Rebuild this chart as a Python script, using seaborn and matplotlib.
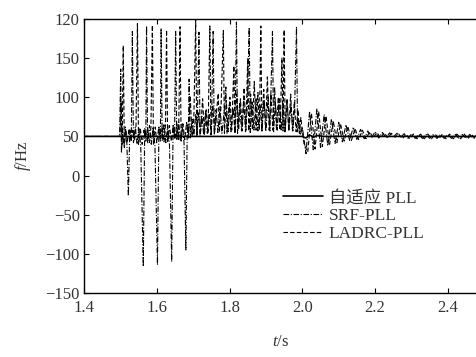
import matplotlib
matplotlib.use("Agg")
import matplotlib.pyplot as plt
import seaborn as sns
import pandas as pd

# ---------------- data ----------------
series_names = ["自适应 PLL", "SRF-PLL", "LADRC-PLL"]

adaptive_t = [1.40, 2.000, 2.010, 2.020, 2.030, 2.040, 2.060, 2.48]
adaptive_f = [50, 50, 48, 52, 49, 51, 50, 50]

srf_t = [1.400, 1.498, 1.501, 1.503, 1.506, 1.510, 1.514, 1.518, 1.522, 1.526,
         1.530, 1.533, 1.536, 1.541, 1.546, 1.551, 1.556, 1.563, 1.567, 1.570,
         1.572, 1.575, 1.580, 1.585, 1.590, 1.595, 1.602, 1.606, 1.610, 1.612,
         1.615, 1.620, 1.625, 1.630, 1.635, 1.641, 1.645, 1.649, 1.652, 1.655,
         1.660, 1.665, 1.670, 1.675, 1.680, 1.684, 1.687, 1.689, 1.692, 1.697,
         1.702, 1.707, 1.711, 1.716, 1.719, 1.724, 1.729, 1.734, 1.739, 1.744,
         1.750, 1.755, 1.758, 1.763, 1.768, 1.774, 1.779, 1.785, 1.790, 1.793,
         1.799, 1.804, 1.810, 1.815, 1.819, 1.822, 1.828, 1.833, 1.839, 1.844,
         1.849, 1.854, 1.857, 1.862, 1.867, 1.873, 1.878, 1.884, 1.889, 1.895,
         1.900, 1.906, 1.911, 1.918, 1.921, 1.926, 1.931, 1.937, 1.942, 1.947,
         1.952, 1.958, 1.963, 1.969, 1.974, 1.979, 1.984, 1.987, 1.991, 1.995,
         2.000, 2.010, 2.020, 2.030, 2.040, 2.050, 2.060, 2.070, 2.080, 2.090,
         2.100, 2.110, 2.120, 2.130, 2.140, 2.150, 2.160, 2.170, 2.180, 2.190,
         2.200, 2.210, 2.220, 2.230, 2.240, 2.250, 2.260, 2.270, 2.280, 2.290,
         2.300, 2.310, 2.320, 2.330, 2.340, 2.350, 2.360, 2.370, 2.380, 2.390,
         2.400, 2.410, 2.420, 2.430, 2.440, 2.450, 2.460, 2.470, 2.480]
srf_f = [50, 50, 136, 29, 60, 38, 62, 40, -26, 58,
         45, 184, 42, 62, 40, 60, 38, -116, 60, 48,
         191, 42, 64, 40, 62, 38, -114, 62, 48, 188,
         44, 66, 42, 64, 40, -110, 64, 50, 184, 45,
         68, 44, 66, 42, -95, 66, 52, 123, 48, 72,
         50, 78, 52, 183, 50, 76, 52, 82, 54, 78,
         53, 184, 52, 84, 55, 88, 54, 80, 113, 54,
         90, 56, 86, 55, 196, 54, 92, 57, 95, 56,
         88, 189, 55, 94, 58, 98, 57, 90, 56, 96,
         58, 100, 57, 184, 56, 94, 58, 98, 57, 92,
         56, 96, 58, 90, 57, 88, 190, 56, 70, 52,
         62, 28, 82, 33, 85, 36, 78, 38, 72, 41,
         68, 43, 65, 45, 62, 46, 59, 47, 57, 48,
         56, 48, 55, 48.5, 54.5, 49, 54, 49, 53.5, 47.5,
         53, 47.5, 52.5, 47.5, 52.5, 47.5, 52.5, 47.5, 52.5, 47.5,
         52.5, 47.5, 52.5, 47.5, 52.5, 47.5, 52.5, 47.5, 52.5]

ladrc_t = [1.400, 1.499, 1.502, 1.505, 1.508, 1.511, 1.515, 1.519, 1.524, 1.529,
           1.534, 1.539, 1.543, 1.547, 1.550, 1.555, 1.560, 1.565, 1.570, 1.575,
           1.580, 1.584, 1.588, 1.591, 1.596, 1.600, 1.605, 1.610, 1.615, 1.620,
           1.624, 1.627, 1.630, 1.635, 1.640, 1.645, 1.650, 1.655, 1.660, 1.664,
           1.667, 1.672, 1.677, 1.682, 1.687, 1.692, 1.697, 1.702, 1.707, 1.710,
           1.715, 1.720, 1.726, 1.731, 1.736, 1.741, 1.746, 1.749, 1.754, 1.759,
           1.764, 1.769, 1.772, 1.777, 1.783, 1.786, 1.791, 1.796, 1.801, 1.806,
           1.812, 1.815, 1.820, 1.825, 1.830, 1.835, 1.840, 1.845, 1.850, 1.853,
           1.858, 1.863, 1.868, 1.873, 1.878, 1.882, 1.886, 1.889, 1.894, 1.899,
           1.904, 1.909, 1.914, 1.919, 1.924, 1.929, 1.934, 1.939, 1.944, 1.947,
           1.950, 1.953, 1.958, 1.963, 1.968, 1.973, 1.978, 1.983, 1.988, 1.992,
           1.996, 2.000, 2.005, 2.015, 2.025, 2.035, 2.045, 2.055, 2.065, 2.075,
           2.085, 2.095, 2.105, 2.115, 2.125, 2.135, 2.145, 2.155, 2.165, 2.175,
           2.185, 2.195, 2.205, 2.215, 2.225, 2.235, 2.245, 2.255, 2.265, 2.275,
           2.285, 2.295, 2.305, 2.315, 2.325, 2.335, 2.345, 2.355, 2.365, 2.375,
           2.385, 2.395, 2.405, 2.415, 2.425, 2.435, 2.445, 2.455, 2.465, 2.475]
ladrc_f = [50, 50, 95, 40, 166, 36, 58, 42, 60, 44,
           58, 45, 62, 194, 40, 60, 40, 58, 44, 60,
           42, 62, 192, 40, 62, 42, 60, 44, 62, 43,
           64, 186, 42, 64, 44, 62, 46, 66, 46, 190,
           44, 66, 46, 68, 48, 102, 50, 74, 199, 50,
           80, 52, 98, 52, 84, 54, 191, 52, 90, 55,
           80, 105, 55, 92, 185, 54, 96, 56, 100, 58,
           140, 56, 104, 58, 98, 57, 112, 58, 150, 57,
           104, 58, 120, 58, 106, 58, 191, 57, 110, 58,
           126, 58, 104, 58, 112, 58, 100, 58, 150, 57,
           186, 56, 98, 58, 104, 57, 94, 56, 84, 54,
           74, 56, 40, 30, 80, 34, 82, 37, 76, 40,
           70, 42, 66, 44, 63, 45, 60, 46, 58, 47,
           56, 48, 55, 48, 54.5, 48.5, 54, 49, 53, 47,
           53, 47, 53, 47, 53, 47, 53, 47, 53, 47,
           53, 47, 53, 47, 53, 47, 53, 47, 53, 47]

y_ticks = [-150, -100, -50, 0, 50, 100, 150, 200]
y_tick_labels = ["\u2212150", "\u2212100", "\u221250", "0", "50", "100", "150", "120"]
x_ticks = [1.4, 1.6, 1.8, 2.0, 2.2, 2.4]
x_tick_labels = ["1.4", "1.6", "1.8", "2.0", "2.2", "2.4"]

# ---------------- plotting ----------------
sns.set_style("ticks")
plt.rcParams["font.family"] = ["Liberation Serif", "Noto Sans CJK SC"]
plt.rcParams["mathtext.fontset"] = "custom"
plt.rcParams["mathtext.rm"] = "Liberation Serif"
plt.rcParams["mathtext.it"] = "Liberation Serif:italic"

fig = plt.figure(figsize=(4.77, 3.57), dpi=100)
ax = fig.add_axes([0.176, 0.179, 0.824, 0.768])

frames = []
for name, tt, ff in [(series_names[0], adaptive_t, adaptive_f),
                     (series_names[1], srf_t, srf_f),
                     (series_names[2], ladrc_t, ladrc_f)]:
    frames.append(pd.DataFrame({"t": tt, "f": ff, "series": name}))
df = pd.concat(frames, ignore_index=True)

styles = {series_names[0]: dict(linestyle="-", lw=1.2),
          series_names[1]: dict(linestyle=(0, (5, 1.5, 1, 1.5)), lw=0.8),
          series_names[2]: dict(linestyle=(0, (4, 2)), lw=0.8)}

for name in [series_names[1], series_names[2], series_names[0]]:
    sub = df[df["series"] == name]
    sns.lineplot(data=sub, x="t", y="f", ax=ax, sort=False, estimator=None,
                 color="black", label=name, **styles[name])

ax.set_xlim(1.4, 2.48)
ax.set_ylim(-150, 200)
ax.set_xticks(x_ticks)
ax.set_xticklabels(x_tick_labels)
ax.set_yticks(y_ticks)
ax.set_yticklabels(y_tick_labels)
ax.tick_params(axis="both", direction="in", length=3.5, width=0.8,
               labelsize=12, colors="black", labelcolor="#333333")
ax.tick_params(axis="x", top=True, pad=5)
ax.tick_params(axis="y", pad=3)
for s in ["left", "bottom", "top"]:
    ax.spines[s].set_linewidth(1.0)
    ax.spines[s].set_color("black")
ax.spines["right"].set_visible(False)

ax.set_xlabel(r"$\mathit{t}$/s", fontsize=12, labelpad=13, color="#333333")
ax.set_ylabel(r"$\mathit{f}$/Hz", fontsize=12, labelpad=9, color="#333333")

handles, labels = ax.get_legend_handles_labels()
order = [labels.index(n) for n in series_names]
leg = ax.legend([handles[i] for i in order], [labels[i] for i in order],
                loc="upper left", bbox_to_anchor=(0.49, 0.40), frameon=False,
                fontsize=12.5, handlelength=2.3, handletextpad=0.3,
                labelspacing=0.1, borderaxespad=0)
for txt in leg.get_texts():
    txt.set_color("#333333")

fig.savefig("out.png", dpi=100)
